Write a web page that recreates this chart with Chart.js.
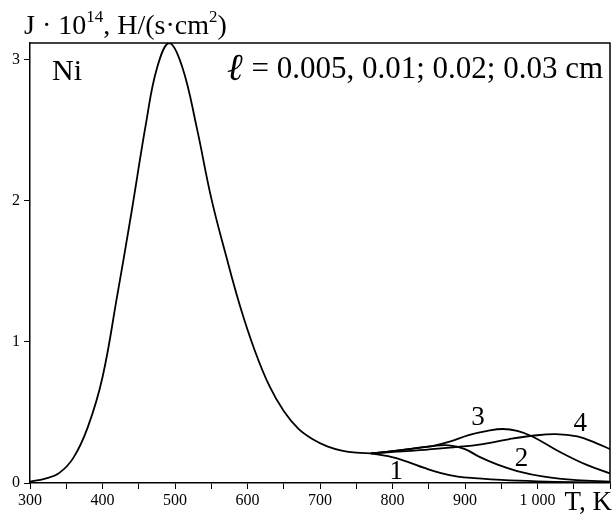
<!DOCTYPE html>
<html>
<head>
<meta charset="utf-8">
<script src="https://cdn.jsdelivr.net/npm/chart.js@4"></script>
<style>
  html, body { margin: 0; padding: 0; background: #fff; }
  #wrap { width: 614px; height: 515px; }
</style>
</head>
<body>
<div id="wrap"><canvas id="chart" width="614" height="515"></canvas></div>
<script>
// common part of the curve (all thicknesses coincide)
let tMain = [300, 320, 340, 360, 380, 400, 420, 440, 460, 475, 492, 510, 530, 550, 570, 590, 610, 630, 650, 670, 690, 710, 730, 750, 770]
let jMain = [0.01, 0.03, 0.07, 0.18, 0.40, 0.75, 1.32, 1.92, 2.55, 2.94, 3.12, 2.95, 2.52, 2.02, 1.62, 1.25, 0.94, 0.69, 0.51, 0.385, 0.31, 0.26, 0.23, 0.215, 0.21]

// branches for l = 0.005, 0.01, 0.02, 0.03 cm
let t1 = [770, 794, 821, 844, 867, 890, 917, 950, 1000, 1050, 1100]
let j1 = [0.21, 0.19, 0.15, 0.107, 0.07, 0.045, 0.033, 0.022, 0.012, 0.006, 0.003]
let t2 = [770, 800, 830, 855, 878, 900, 920, 945, 972, 1009, 1054, 1100]
let j2 = [0.21, 0.225, 0.245, 0.262, 0.267, 0.24, 0.185, 0.13, 0.085, 0.045, 0.02, 0.01]
let t3 = [770, 800, 830, 855, 880, 905, 931, 952, 972, 993, 1031, 1068, 1100]
let j3 = [0.21, 0.225, 0.245, 0.262, 0.295, 0.34, 0.37, 0.383, 0.37, 0.33, 0.22, 0.128, 0.068]
let t4 = [770, 794, 830, 867, 917, 960, 993, 1025, 1055, 1080, 1100]
let j4 = [0.21, 0.218, 0.23, 0.246, 0.27, 0.31, 0.335, 0.347, 0.33, 0.285, 0.24]

let yTicks = [0, 1, 2, 3]

// curve numbers and where they sit (T, J)
let curveNames = ["1", "2", "3", "4"]
let nameT = [805, 978, 918, 1059]
let nameJ = [0.078, 0.17, 0.46, 0.42]

let serif = "'Liberation Serif', 'Times New Roman', serif"

function pts(t, j) {
  return t.map((x, i) => ({ x: x, y: j[i] }))
}

function line(t, j) {
  return {
    data: pts(t, j),
    borderColor: "#000",
    borderWidth: 1.8,
    pointRadius: 0,
    fill: false,
    tension: 0.4
  }
}

// draws the texts that are not axis ticks
const texts = {
  id: "texts",
  afterDraw(chart) {
    let ctx = chart.ctx
    let xs = chart.scales.x, ys = chart.scales.y
    ctx.save()
    ctx.fillStyle = "#000"
    ctx.textBaseline = "alphabetic"

    // y axis title with superscripts
    let parts = [["J · 10", 28, 0], ["14", 17, -12], [", H/(s·cm", 28, 0], ["2", 17, -12], [")", 28, 0]]
    let x = 24
    parts.forEach((p) => {
      ctx.font = p[1] + "px " + serif
      ctx.textAlign = "left"
      ctx.fillText(p[0], x, 34 + p[2])
      x += ctx.measureText(p[0]).width
    })

    // x axis title
    ctx.font = "27px " + serif
    ctx.textAlign = "right"
    ctx.fillText("T, K", 612, 510)

    // Ni
    ctx.font = "30px " + serif
    ctx.textAlign = "left"
    ctx.fillText("Ni", 52, 80)

    // thickness note
    ctx.font = "31px " + serif
    ctx.textAlign = "right"
    let rest = " = 0.005, 0.01; 0.02; 0.03 cm"
    ctx.fillText(rest, 603, 78)
    let w = ctx.measureText(rest).width
    ctx.font = "bold italic 38px 'DejaVu Serif', serif"
    ctx.fillText("ℓ", 603 - w, 80)

    // curve numbers
    ctx.font = "27px " + serif
    ctx.textAlign = "center"
    ctx.textBaseline = "middle"
    curveNames.forEach((n, i) => {
      ctx.fillText(n, xs.getPixelForValue(nameT[i]), ys.getPixelForValue(nameJ[i]))
    })
    ctx.restore()
  }
}

// frame on top and right
const frame = {
  id: "frame",
  beforeDatasetsDraw(chart) {
    let a = chart.chartArea, ctx = chart.ctx
    ctx.save()
    ctx.strokeStyle = "#000"
    ctx.lineWidth = 1.5
    ctx.beginPath()
    ctx.moveTo(a.left, a.top)
    ctx.lineTo(a.right, a.top)
    ctx.lineTo(a.right, a.bottom)
    ctx.stroke()
    ctx.restore()
  }
}

new Chart(document.getElementById("chart"), {
  type: "line",
  data: {
    datasets: [line(tMain, jMain), line(t1, j1), line(t2, j2), line(t3, j3), line(t4, j4)]
  },
  options: {
    responsive: false,
    animation: false,
    layout: { padding: { top: 43, right: 4, left: 0, bottom: 0 } },
    plugins: { legend: { display: false }, tooltip: { enabled: false } },
    scales: {
      x: {
        type: "linear",
        min: 300,
        max: 1100,
        afterFit: (s) => { s.height = 32 },
        border: { color: "#000", width: 1.5 },
        grid: { drawOnChartArea: false, color: "#000", tickLength: 6, lineWidth: 1 },
        ticks: {
          stepSize: 50,
          autoSkip: false,
          maxRotation: 0,
          color: "#000",
          padding: 2,
          font: { family: serif, size: 16 },
          callback: (v) => (v % 100 !== 0 || v > 1000) ? "" : (v === 1000 ? "1 000" : String(v))
        }
      },
      y: {
        type: "linear",
        min: 0,
        max: 3.12,
        afterFit: (s) => { s.width = 30 },
        afterBuildTicks: (s) => { s.ticks = yTicks.map((v) => ({ value: v })) },
        border: { color: "#000", width: 1.5 },
        grid: { drawOnChartArea: false, color: "#000", tickLength: 6, lineWidth: 1 },
        ticks: {
          color: "#000",
          padding: 4,
          font: { family: serif, size: 16 }
        }
      }
    }
  },
  plugins: [frame, texts]
});
</script>
</body>
</html>
